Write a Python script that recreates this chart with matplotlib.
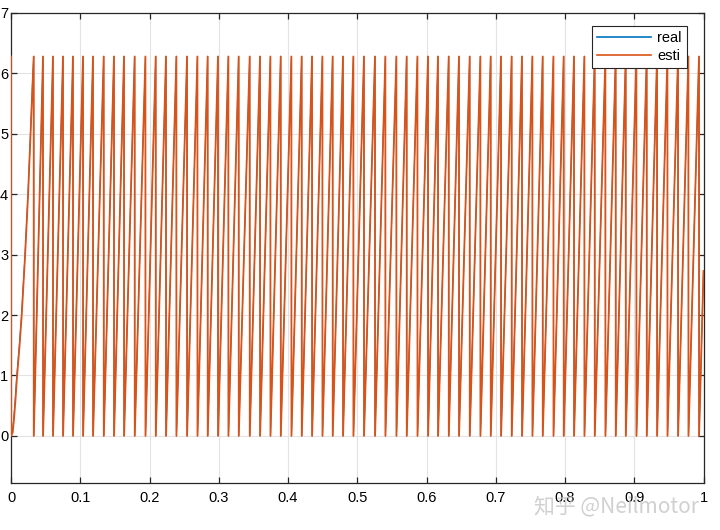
import matplotlib
matplotlib.use("Agg")
import matplotlib.pyplot as plt

plt.rcParams['font.family'] = ['Liberation Sans', 'DejaVu Sans']

# ---- data ----
# start-up ramp of the electrical angle (s, rad)
ramp_t = [0.0, 0.002, 0.004, 0.006, 0.008, 0.012, 0.0152, 0.0202, 0.0245, 0.0281, 0.0315, 0.0328]
ramp_theta = [0.0, 0.06, 0.3, 0.6, 0.95, 1.5, 2.0, 3.0, 4.0, 5.0, 6.0, 6.28]
# estimated angle lags very slightly during start-up
esti_ramp_t = [0.0, 0.0025, 0.0045, 0.0065, 0.0085, 0.0124, 0.0155, 0.0204, 0.0247, 0.0282, 0.0316, 0.0328]

# times where the angle wraps from 2*pi back to 0 (s)
drop_times = [0.0328, 0.0462, 0.0606, 0.0751, 0.0895, 0.1040, 0.1184, 0.1339, 0.1487, 0.1632,
              0.1786, 0.1941, 0.2090, 0.2238, 0.2388, 0.2542, 0.2692, 0.2840, 0.2989, 0.3139,
              0.3288, 0.3447, 0.3596, 0.3746, 0.3895, 0.4049, 0.4198, 0.4347, 0.4497, 0.4645,
              0.4794, 0.4944, 0.5097, 0.5256, 0.5406, 0.5565, 0.5714, 0.5869, 0.6022, 0.6166,
              0.6321, 0.6469, 0.6624, 0.6778, 0.6927, 0.7076, 0.7230, 0.7379, 0.7529, 0.7678,
              0.7833, 0.7981, 0.8130, 0.8280, 0.8429, 0.8583, 0.8732, 0.8877, 0.9031, 0.9180,
              0.9329, 0.9479, 0.9632, 0.9782, 0.9935]
peak_theta = 6.28
end_t = 1.0
end_theta = 2.73
esti_initial = 6.28

series_names = ['real', 'esti']


def build(rt, rv, drops):
    t = list(rt)
    v = list(rv)
    for d_prev, d in zip(drops[:-1], drops[1:]):
        t += [d_prev + 1e-4, d]
        v += [0.0, peak_theta]
    t += [drops[-1] + 1e-4, end_t]
    v += [0.0, end_theta]
    return t, v


real_t, real_v = build(ramp_t, ramp_theta, drop_times)
esti_t, esti_v = build(esti_ramp_t, ramp_theta, drop_times)
esti_t = [0.0] + [x + 2e-4 if i == 0 else x for i, x in enumerate(esti_t)]
esti_v = [esti_initial] + esti_v

fig = plt.figure(figsize=(7.2, 5.3), dpi=100)
ax = fig.add_axes([11 / 720, 1 - 483 / 530, 692.5 / 720, 470 / 530])

ax.plot(real_t, real_v, color='#0072BD', lw=0.7, label=series_names[0], zorder=3)
ax.plot(esti_t, esti_v, color='#D95319', lw=1.3, label=series_names[1], zorder=3.1)

ax.set_xlim(0, 1)
ax.set_ylim(-0.78, 7)
ax.set_xticks([0, 0.1, 0.2, 0.3, 0.4, 0.5, 0.6, 0.7, 0.8, 0.9, 1])
ax.set_xticklabels(['0', '0.1', '0.2', '0.3', '0.4', '0.5', '0.6', '0.7', '0.8', '0.9', '1'])
ax.set_yticks([0, 1, 2, 3, 4, 5, 6, 7])
ax.grid(True, color='#e3e3e3', lw=0.8)
ax.set_axisbelow(True)
for s in ax.spines.values():
    s.set_color('#262626')
    s.set_linewidth(0.9)
ax.tick_params(direction='in', top=True, right=True, length=4.5, width=0.9,
               colors='#262626', labelsize=10.5, labelcolor='black')
ax.tick_params(axis='x', pad=6)
ax.tick_params(axis='y', pad=2)

leg = ax.legend(loc='upper right', bbox_to_anchor=(0.976, 0.972), fontsize=10.5,
                frameon=True, fancybox=False, handlelength=3.7, handletextpad=0.4,
                labelspacing=0.25, borderpad=0.35, borderaxespad=0)
leg.set_zorder(5)
leg.get_frame().set_edgecolor('#262626')
leg.get_frame().set_linewidth(0.8)
leg.get_frame().set_alpha(1)
for h in leg.get_lines():
    h.set_linewidth(1.2)

fig.text(0.742, 0.045, '知乎 @Neilmotor', fontsize=15, color='#c8c8c8', alpha=0.85,
         family=['Noto Sans CJK SC', 'DejaVu Sans'], ha='left', va='center')

fig.savefig('out.png', dpi=100)
